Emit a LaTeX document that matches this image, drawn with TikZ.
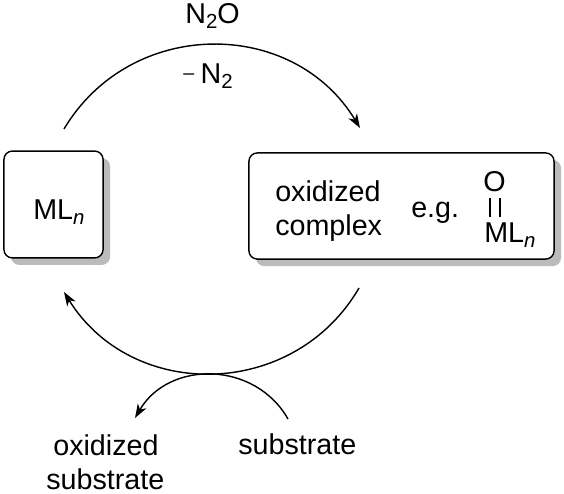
\documentclass[tikz,border=0pt]{standalone}
\usepackage{fontspec}
\setmainfont{Liberation Sans}
\usetikzlibrary{arrows.meta, shadows}
\newcommand{\subidx}[1]{\raisebox{-0.2em}{\fontsize{14.5}{14.5}\selectfont #1}}
\definecolor{shadowgray}{RGB}{187,187,187}

\begin{document}
\begin{tikzpicture}[
  x=0.025cm, y=-0.025cm,
  cycbox/.style={draw, line width=1pt, fill=white, rounded corners=6pt, inner sep=0pt,
    drop shadow={shadow xshift=5pt, shadow yshift=-5pt, fill=shadowgray, opacity=1}},
  lbl/.style={font=\fontsize{20.4}{23.7}\selectfont, anchor=base west, inner sep=0pt, align=left},
  curly/.style={-{Stealth[length=10pt, width=7pt, inset=3pt]}, line width=1pt},
  bond/.style={line width=1pt}
]
\useasboundingbox (0,0) rectangle (564,493);

\node[cycbox, minimum width=70.5pt, minimum height=76pt] (mlbox) at (53.5,204.5) {};
\node[cycbox, minimum width=217pt, minimum height=75.5pt] (oxbox) at (401.5,206) {};

\node[lbl] (mltext) at (33,219) {ML\subidx{\textit{n}}};
\node[lbl] (oxtext) at (275,235) {oxidized\\complex};
\node[lbl] (egtext) at (411,217) {e.g.};
\node[lbl] (oatom) at (483,191) {O};
\node[lbl] (mlatom) at (484,242) {ML\subidx{\textit{n}}};
\node[lbl] (ntwoo) at (185,23) {N\subidx{2}O};
\node[lbl] (ntwo) at (183,83) {\raisebox{0.12em}{\fontsize{14}{14}\selectfont –}\hspace{0.22em}N\subidx{2}};
\node[lbl] (oxsub) at (46,489) {\hspace{5pt}oxidized\\substrate};
\node[lbl] (subtext) at (238,454) {substrate};

% double bond
\coordinate (bondaa) at (490,198);
\coordinate (bondab) at (490,217);
\coordinate (bondba) at (500,198);
\coordinate (bondbb) at (500,217);
\draw[bond] (bondaa) -- (bondab);
\draw[bond] (bondba) -- (bondbb);

% cycle arrows
\coordinate (topa) at (64,129);
\coordinate (topb) at (360,128);
\coordinate (lowa) at (359,288);
\coordinate (lowb) at (64,292);
\coordinate (suba) at (288,419);
\coordinate (subb) at (135,418);
\draw[curly] (topa) to[bend left=59, looseness=1.12] (topb);
\draw[curly] (lowa) to[bend left=59, looseness=1.12] (lowb);
\draw[curly] (suba) to[bend right=60, looseness=1.12] (subb);
\end{tikzpicture}
\end{document}
